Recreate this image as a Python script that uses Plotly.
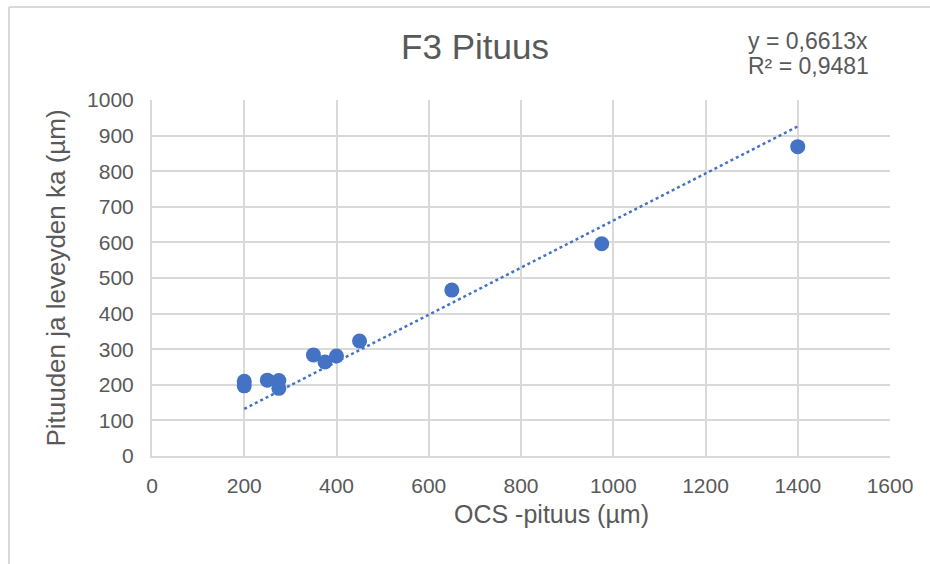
import plotly.graph_objects as go

# OCS length vs. mean of length and width (µm)
ocs_length = [200, 200, 250, 275, 275, 350, 375, 400, 450, 650, 975, 1400]
mean_size = [210, 197, 213, 212, 190, 284, 264, 281, 323, 466, 596, 869]

slope = 0.6613
r_squared = 0.9481

x_ticks = [0, 200, 400, 600, 800, 1000, 1200, 1400, 1600]
y_ticks = [0, 100, 200, 300, 400, 500, 600, 700, 800, 900, 1000]

blue = "#4472C4"
grid = "#D9D9D9"
text = "#595959"
font = "Liberation Sans, Arial, sans-serif"

# Plot area in pixels, used to place the free text in paper units
L, R, T, B = 152, 890, 100, 456


def px(xp):
    return (xp - L) / (R - L)


def py(yp):
    return (B - yp) / (B - T)


trend_x = [min(ocs_length), max(ocs_length)]
trend_y = [slope * v for v in trend_x]

fig = go.Figure()
fig.add_trace(go.Scatter(
    x=trend_x, y=trend_y, mode="lines",
    line=dict(color=blue, width=2.5, dash="dot"),
    hoverinfo="skip", showlegend=False,
))
fig.add_trace(go.Scatter(
    x=ocs_length, y=mean_size, mode="markers",
    marker=dict(color=blue, size=15, line=dict(width=0)),
    showlegend=False,
))

fig.update_layout(
    width=930, height=564,
    margin=dict(l=L, r=930 - R, t=T, b=564 - B),
    paper_bgcolor="white", plot_bgcolor="white",
    font=dict(family=font, color=text, size=21),
    title=dict(text="F3 Pituus", x=475 / 930, xanchor="center",
               y=1 - 47 / 564, yanchor="middle",
               font=dict(size=35, color=text, family=font)),
    xaxis=dict(
        range=[0, 1600], tickvals=x_ticks, ticktext=[str(v) for v in x_ticks],
        showgrid=True, gridcolor=grid, gridwidth=2,
        zeroline=False, showline=True, linecolor=grid, linewidth=2,
        ticks="", ticklabelstandoff=10, tickfont=dict(size=21, color=text),
    ),
    yaxis=dict(
        range=[0, 1000], tickvals=y_ticks, ticktext=[str(v) for v in y_ticks],
        showgrid=True, gridcolor=grid, gridwidth=2,
        zeroline=False, showline=True, linecolor=grid, linewidth=2,
        ticks="", ticklabelstandoff=12, tickfont=dict(size=21, color=text),
        title=dict(text="Pituuden ja leveyden ka (µm)", font=dict(size=26, color=text), standoff=14),
    ),
)

# X-axis title, centred on the chart area
fig.add_annotation(
    xref="paper", yref="paper", x=px(551), y=py(514),
    xanchor="center", yanchor="middle", showarrow=False,
    text="OCS -pituus (µm)", font=dict(size=25, color=text, family=font),
)

# Trendline equation
fig.add_annotation(
    xref="paper", yref="paper", x=px(746), y=py(41),
    xanchor="left", yanchor="middle", showarrow=False,
    text=f"y = {str(slope).replace('.', ',')}x",
    font=dict(size=23, color=text, family=font),
)
fig.add_annotation(
    xref="paper", yref="paper", x=px(746), y=py(66),
    xanchor="left", yanchor="middle", showarrow=False,
    text=f"R² = {str(r_squared).replace('.', ',')}",
    font=dict(size=23, color=text, family=font),
)

# Chart frame
fig.add_shape(type="line", xref="paper", yref="paper",
              x0=px(9), x1=px(930), y0=py(7), y1=py(7),
              line=dict(color=grid, width=2))
fig.add_shape(type="line", xref="paper", yref="paper",
              x0=px(9), x1=px(9), y0=py(7), y1=py(564),
              line=dict(color=grid, width=2))

fig.write_html("out.html")
